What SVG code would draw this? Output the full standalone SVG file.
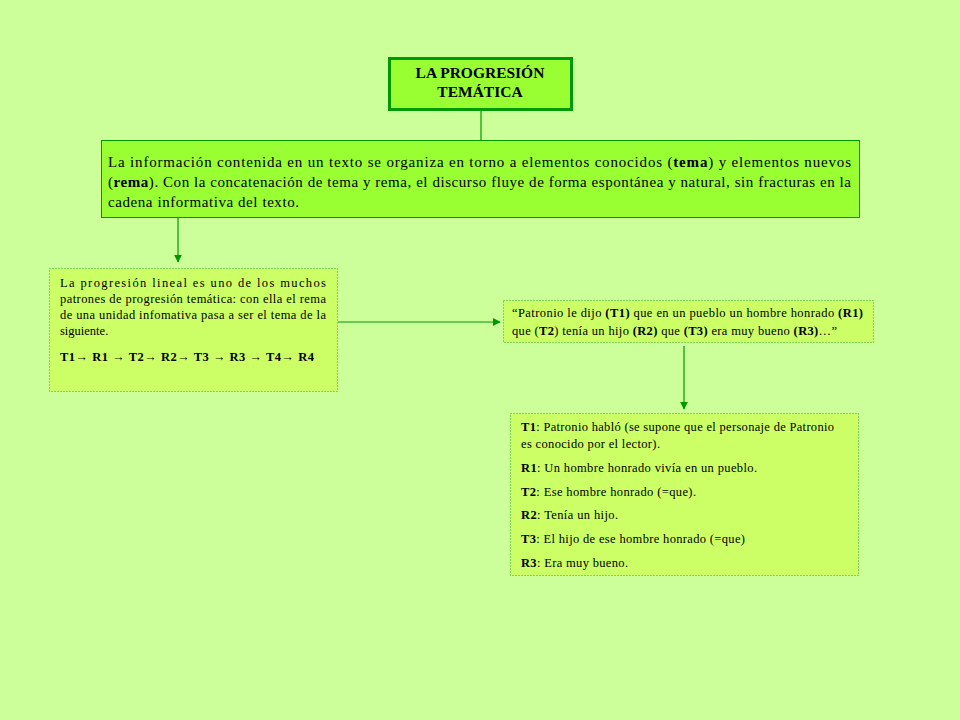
<svg xmlns="http://www.w3.org/2000/svg" width="960" height="720" viewBox="0 0 960 720">
<defs>
<style>
.t{font-family:"Liberation Serif","Times New Roman",serif;fill:#000}
.b{font-weight:bold}
.box{fill:#CCFF66;stroke:#33AA33;stroke-width:1;stroke-dasharray:1 2}
.ln{stroke:#009900;stroke-width:1.2;fill:none}
.s{font-size:12.5px}
</style>
<marker id="ah" viewBox="0 0 10 10" refX="9" refY="5" markerWidth="8" markerHeight="8" orient="auto" markerUnits="userSpaceOnUse">
<path d="M0,0 L10,5 L0,10 z" fill="#009900"/>
</marker>
</defs>
<rect width="960" height="720" fill="#CCFF99"/>
<g id="connectors">
<line class="ln" x1="481" y1="110" x2="481" y2="140"/>
<line class="ln" x1="178" y1="218" x2="178" y2="262" marker-end="url(#ah)"/>
<line class="ln" x1="338" y1="322" x2="500" y2="322" marker-end="url(#ah)"/>
<line class="ln" x1="684" y1="346" x2="684" y2="409" marker-end="url(#ah)"/>
</g>
<g id="title">
<rect x="389.5" y="58.5" width="182" height="51" fill="#99FF33" stroke="#009900" stroke-width="3"/>
<text class="t b" x="480" y="78" font-size="15.5" text-anchor="middle">LA PROGRESIÓN</text>
<text class="t b" x="480" y="97" font-size="15.5" text-anchor="middle">TEMÁTICA</text>
</g>
<g id="main">
<rect x="101.5" y="140.5" width="758" height="77" fill="#99FF33" stroke="#009900" stroke-width="1"/>
<text class="t" x="108" y="167" font-size="15" textLength="743" lengthAdjust="spacing">La información contenida en un texto se organiza en torno a elementos conocidos (<tspan class="b">tema</tspan>) y elementos nuevos</text>
<text class="t" x="108" y="187" font-size="15" textLength="743" lengthAdjust="spacing">(<tspan class="b">rema</tspan>). Con la concatenación de tema y rema, el discurso fluye de forma espontánea y natural, sin fracturas en la</text>
<text class="t" x="108" y="207" font-size="15" textLength="191" lengthAdjust="spacing">cadena informativa del texto.</text>
</g>
<g id="lineal">
<rect class="box" x="49.5" y="268.5" width="288" height="123"/>
<text class="t" x="60" y="287" font-size="12.5" textLength="266" lengthAdjust="spacing">La progresión lineal es uno de los muchos</text>
<text class="t" x="60" y="303" font-size="12.5" textLength="266" lengthAdjust="spacing">patrones de progresión temática: con ella el rema</text>
<text class="t" x="60" y="319" font-size="12.5" textLength="266" lengthAdjust="spacing">de una unidad infomativa pasa a ser el tema de la</text>
<text class="t" x="60" y="335" font-size="12.5">siguiente.</text>
<text class="t b" x="60" y="361" font-size="12.5" textLength="254" lengthAdjust="spacing">T1→ R1 → T2→ R2→  T3 → R3 → T4→ R4</text>
</g>
<g id="ejemplo">
<rect class="box" x="503.5" y="300.5" width="370" height="42"/>
<text class="t s" x="512" y="317" textLength="351" lengthAdjust="spacing">“Patronio le dijo <tspan class="b">(T1)</tspan> que en un pueblo un hombre honrado <tspan class="b">(R1)</tspan></text>
<text class="t s" x="512" y="335" textLength="325" lengthAdjust="spacing">que (<tspan class="b">T2</tspan>) tenía un hijo <tspan class="b">(R2)</tspan> que <tspan class="b">(T3)</tspan> era muy bueno <tspan class="b">(R3)</tspan>…”</text>
</g>
<g id="analisis">
<rect class="box" x="510.5" y="413.5" width="348" height="162"/>
<text class="t s" x="521" y="431" textLength="313" lengthAdjust="spacing"><tspan class="b">T1</tspan>: Patronio habló (se supone que el personaje de Patronio</text>
<text class="t s" x="521" y="448" textLength="139" lengthAdjust="spacing">es conocido por el lector).</text>
<text class="t s" x="521" y="472" textLength="236" lengthAdjust="spacing"><tspan class="b">R1</tspan>: Un hombre honrado vivía en un pueblo.</text>
<text class="t s" x="521" y="496" textLength="175" lengthAdjust="spacing"><tspan class="b">T2</tspan>: Ese hombre honrado (=que).</text>
<text class="t s" x="521" y="519" textLength="97" lengthAdjust="spacing"><tspan class="b">R2</tspan>: Tenía un hijo.</text>
<text class="t s" x="521" y="543" textLength="224" lengthAdjust="spacing"><tspan class="b">T3</tspan>: El hijo de ese hombre honrado (=que)</text>
<text class="t s" x="521" y="567" textLength="107" lengthAdjust="spacing"><tspan class="b">R3</tspan>: Era muy bueno.</text>
</g>
</svg>
